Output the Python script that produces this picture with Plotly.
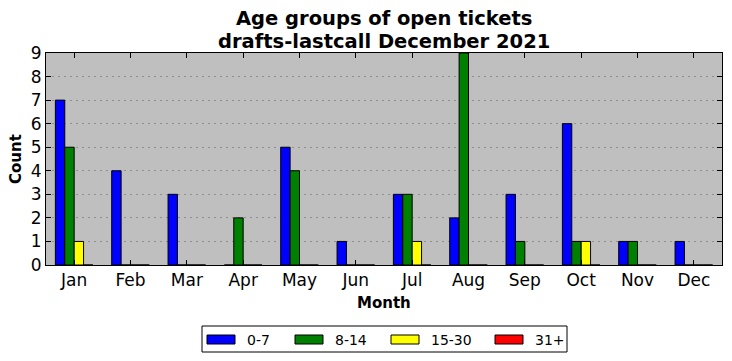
import plotly.graph_objects as go

months = ["Jan", "Feb", "Mar", "Apr", "May", "Jun", "Jul", "Aug", "Sep", "Oct", "Nov", "Dec"]
age_0_7 = [7, 4, 3, 0, 5, 1, 3, 2, 3, 6, 1, 1]
age_8_14 = [5, 0, 0, 2, 4, 0, 3, 9, 1, 1, 1, 0]
age_15_30 = [1, 0, 0, 0, 0, 0, 1, 0, 0, 1, 0, 0]
age_31_plus = [0, 0, 0, 0, 0, 0, 0, 0, 0, 0, 0, 0]

series = [("0-7", age_0_7, "#0000ff"), ("8-14", age_8_14, "#008000"),
          ("15-30", age_15_30, "#ffff00"), ("31+", age_31_plus, "#ff0000")]

W, H = 732, 361
L, R, T, B = 46, 10, 53, 96
font = "DejaVu Sans"

fig = go.Figure()
for name, vals, col in series:
    fig.add_trace(go.Bar(x=months, y=vals, name=name, showlegend=False,
                         marker=dict(color=col, line=dict(color="black", width=1))))

def px_x(x):
    return (x - L) / (W - L - R)

def px_y(y):
    return (H - B - y) / (H - T - B)

shapes = []
annotations = []
# legend box (manual, to mimic wide swatches)
shapes.append(dict(type="rect", xref="paper", yref="paper", x0=px_x(202), x1=px_x(567),
                   y0=px_y(352), y1=px_y(326), line=dict(color="black", width=1), fillcolor="white"))
sw_x = [207, 295, 391, 495]
tx_x = [245, 333, 429, 533]
for (name, vals, col), sx, tx in zip(series, sw_x, tx_x):
    shapes.append(dict(type="rect", xref="paper", yref="paper", x0=px_x(sx), x1=px_x(sx + 28),
                       y0=px_y(344), y1=px_y(335), line=dict(color="black", width=1), fillcolor=col))
    annotations.append(dict(text=name, xref="paper", yref="paper", x=px_x(tx), y=px_y(339.5),
                            xanchor="left", yanchor="middle", showarrow=False,
                            font=dict(size=14, family=font, color="black")))
annotations.append(dict(text="<b>Age groups of open tickets</b>", xref="paper", yref="paper",
                        x=0.5, y=px_y(19), xanchor="center", yanchor="middle", showarrow=False,
                        font=dict(size=19.5, family=font, color="black")))
annotations.append(dict(text="<b>drafts-lastcall December 2021</b>", xref="paper", yref="paper",
                        x=0.5, y=px_y(41), xanchor="center", yanchor="middle", showarrow=False,
                        font=dict(size=19.5, family=font, color="black")))
annotations.append(dict(text="<b>Month</b>", xref="paper", yref="paper",
                        x=0.5, y=px_y(303), xanchor="center", yanchor="middle", showarrow=False,
                        font=dict(size=15, family=font, color="black")))
annotations.append(dict(text="<b>Count</b>", xref="paper", yref="paper", textangle=-90,
                        x=px_x(16), y=px_y(159), xanchor="center", yanchor="middle", showarrow=False,
                        font=dict(size=15, family=font, color="black")))

fig.update_layout(
    width=W, height=H,
    margin=dict(l=L, r=R, t=T, b=B, autoexpand=False),
    paper_bgcolor="white", plot_bgcolor="#bfbfbf",
    barmode="group", bargap=0.333, bargroupgap=0,
    font=dict(family=font, color="black", size=17),
    showlegend=False,
    shapes=shapes, annotations=annotations,
    xaxis=dict(showline=True, linecolor="black", linewidth=1, mirror="ticks",
               ticks="inside", ticklen=5, tickcolor="black", automargin=False,
               tickfont=dict(size=17)),
    yaxis=dict(range=[0, 9], dtick=1, showline=True, linecolor="black", linewidth=1, mirror="ticks",
               ticks="inside", ticklen=5, tickcolor="black", automargin=False,
               showgrid=True, gridcolor="#8f8f8f", griddash="2px,4px", gridwidth=1,
               zeroline=False, tickfont=dict(size=17)),
)
fig.write_html("out.html", config={"displayModeBar": False},
               post_script="document.body.style.margin='0';")
